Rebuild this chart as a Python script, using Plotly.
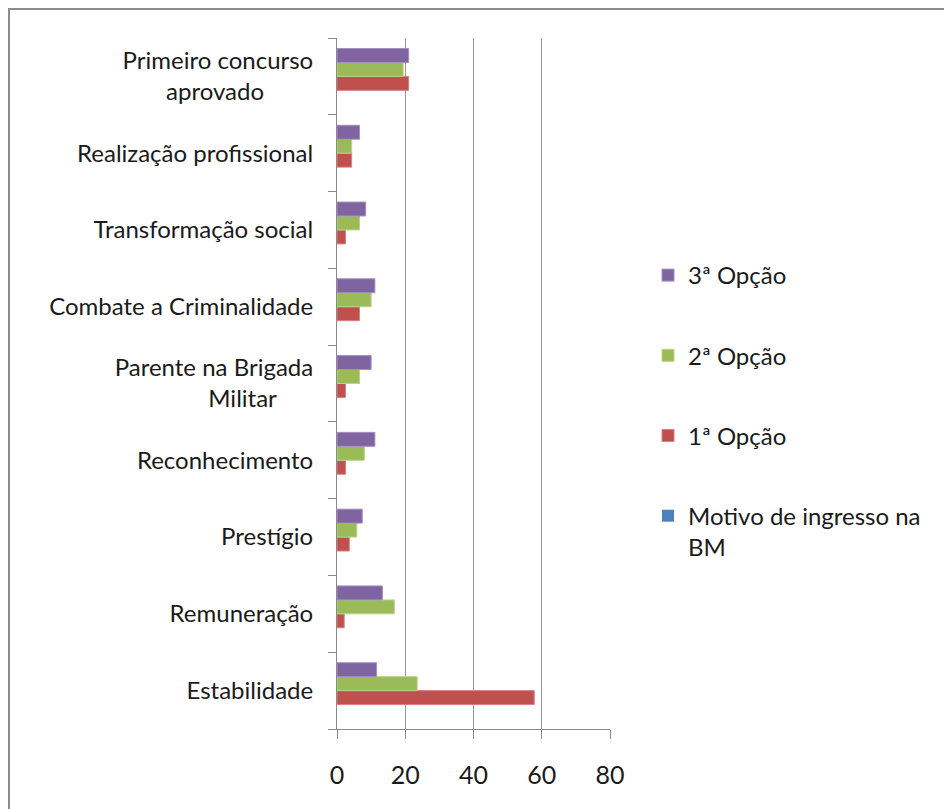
import plotly.graph_objects as go

NB = "\u00a0"
categories = [
    "Estabilidade",
    "Remuneração",
    "Prestígio",
    "Reconhecimento",
    "Parente na Brigada<br>Militar" + NB * 6,
    "Combate a Criminalidade",
    "Transformação social",
    "Realização profissional",
    "Primeiro concurso<br>aprovado" + NB * 8,
]

motivo = [0, 0, 0, 0, 0, 0, 0, 0, 0]
opcao1 = [57.8, 2.1, 3.6, 2.5, 2.5, 6.6, 2.5, 4.3, 21.0]
opcao2 = [23.5, 16.8, 5.8, 8.0, 6.6, 10.0, 6.6, 4.3, 19.4]
opcao3 = [11.6, 13.3, 7.4, 11.1, 10.0, 11.1, 8.4, 6.6, 21.0]

series_names = ["Motivo de ingresso na<br>BM", "1ª Opção", "2ª Opção", "3ª Opção"]
series_values = [motivo, opcao1, opcao2, opcao3]
colors = ["#4F81BD", "#C0504D", "#9BBB59", "#8064A2"]
edge = ["#4F81BD", "#d8807e", "#b9d487", "#a58fc2"]
edge_w = [0, 1, 1, 1]
ranks = [4, 3, 2, 1]

FONT = "Lato"
fig = go.Figure()
for name, vals, c, e, ew, rk in zip(series_names, series_values, colors, edge, edge_w, ranks):
    fig.add_trace(go.Bar(
        y=categories, x=vals, name=name, orientation="h",
        marker=dict(color=c, line=dict(color=e, width=ew)),
        legendgroup=name, legendrank=rk,
    ))

W, H = 944, 809
L, R, T, B = 337, 610, 38, 729
pw, ph = R - L, B - T

def px_x(x):
    return (x - L) / pw

def px_y(y):
    return (B - y) / ph

fig.update_layout(
    width=W, height=H,
    margin=dict(l=L, r=W - R, t=T, b=H - B, pad=0),
    paper_bgcolor="white", plot_bgcolor="white",
    barmode="group", bargap=0.273, bargroupgap=0,
    font=dict(family=FONT, size=24, color="#1a1a1a"),
    legend=dict(
        x=px_x(648), y=px_y(253), xanchor="left", yanchor="top",
        traceorder="grouped", tracegroupgap=46,
        font=dict(family=FONT, size=24, color="#1a1a1a"),
        valign="top", bgcolor="rgba(0,0,0,0)",
    ),
    showlegend=True,
    xaxis=dict(
        range=[0, 80], tickvals=[0, 20, 40, 60, 80], ticktext=["0", "20", "40", "60", "80"],
        showgrid=True, gridcolor="#979797", gridwidth=1,
        showline=True, linecolor="#8a8a8a", linewidth=1,
        ticks="outside", ticklen=9, tickcolor="#8a8a8a",
        tickfont=dict(family=FONT, size=25, color="#1a1a1a"),
        ticklabelstandoff=15,
        zeroline=False, fixedrange=True,
    ),
    yaxis=dict(
        type="category", categoryorder="array", categoryarray=categories,
        tickson="boundaries", ticks="outside", ticklen=8, tickcolor="#8a8a8a",
        showline=True, linecolor="#8a8a8a", linewidth=1,
        showgrid=False, ticklabelstandoff=18,
        tickfont=dict(family=FONT, size=24, color="#1a1a1a"),
        fixedrange=True,
    ),
    shapes=[dict(
        type="rect", xref="paper", yref="paper",
        x0=px_x(9), x1=px_x(990), y0=px_y(860), y1=px_y(9),
        line=dict(color="#8c8c8c", width=2), fillcolor="rgba(0,0,0,0)", layer="below",
    )],
)

fig.write_html("out.html", config={"displayModeBar": False})
